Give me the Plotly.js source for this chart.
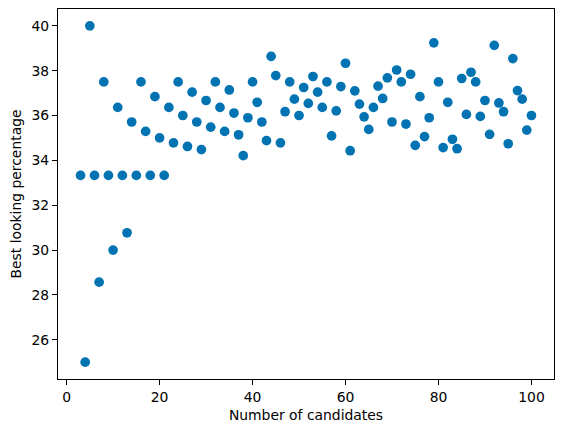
<!DOCTYPE html>
<html>
<head>
<meta charset="utf-8">
<script src="https://cdn.plot.ly/plotly-3.0.1.min.js"></script>
<style>html,body{margin:0;padding:0;background:#fff;}#chart{width:563px;height:432px;}</style>
</head>
<body>
<div id="chart"></div>
<script>
const candidates = [3,4,5,6,7,8,9,10,11,12,13,14,15,16,17,18,19,20,21,22,23,24,25,26,27,28,29,30,31,32,33,34,35,36,37,38,39,40,41,42,43,44,45,46,47,48,49,50,51,52,53,54,55,56,57,58,59,60,61,62,63,64,65,66,67,68,69,70,71,72,73,74,75,76,77,78,79,80,81,82,83,84,85,86,87,88,89,90,91,92,93,94,95,96,97,98,99,100];
const bestPercentage = [33.33,25.00,40.00,33.33,28.57,37.50,33.33,30.00,36.36,33.33,30.77,35.71,33.33,37.50,35.29,33.33,36.84,35.00,33.33,36.36,34.78,37.50,36.00,34.62,37.04,35.71,34.48,36.67,35.48,37.50,36.36,35.29,37.14,36.11,35.14,34.21,35.90,37.50,36.59,35.71,34.88,38.64,37.78,34.78,36.17,37.50,36.73,36.00,37.25,36.54,37.74,37.04,36.36,37.50,35.09,36.21,37.29,38.33,34.43,37.10,36.51,35.94,35.38,36.36,37.31,36.76,37.68,35.71,38.03,37.50,35.62,37.84,34.67,36.84,35.06,35.90,39.24,37.50,34.57,36.59,34.94,34.52,37.65,36.05,37.93,37.50,35.96,36.67,35.16,39.13,36.56,36.17,34.74,38.54,37.11,36.73,35.35,36.00];
const xTicks = [0,20,40,60,80,100];
const yTicks = [26,28,30,32,34,36,38,40];

const font = {family: 'DejaVu Sans, sans-serif', size: 13.9, color: '#000'};
const axisCommon = {
  showline: true, mirror: true, linecolor: '#000', linewidth: 1.1,
  ticks: 'outside', ticklen: 4.9, tickwidth: 1.1, tickcolor: '#000',
  showgrid: false, zeroline: false, tickfont: font
};
Plotly.newPlot('chart', [{
  x: candidates, y: bestPercentage, type: 'scatter', mode: 'markers',
  marker: {color: '#0173b2', size: 9.7, line: {width: 0}}
}], {
  width: 563, height: 432,
  margin: {l: 58, r: 9, t: 9, b: 53},
  paper_bgcolor: '#fff', plot_bgcolor: '#fff',
  font: font, showlegend: false,
  xaxis: Object.assign({}, axisCommon, {
    range: [-1.85, 104.85], tickvals: xTicks,
    title: {text: 'Number of candidates', font: font, standoff: 6}
  }),
  yaxis: Object.assign({}, axisCommon, {
    range: [24.25, 40.75], tickvals: yTicks,
    title: {text: 'Best looking percentage', font: font, standoff: 6}
  })
}, {displayModeBar: false, staticPlot: true});
</script>
</body>
</html>
